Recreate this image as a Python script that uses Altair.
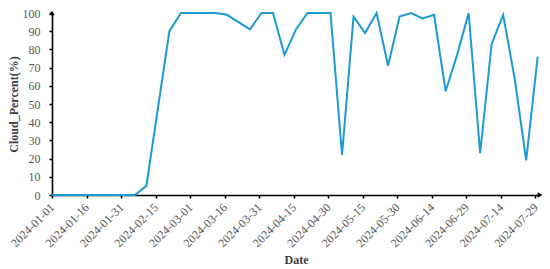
import altair as alt
import pandas as pd

dates = ["2024-01-01", "2024-01-06", "2024-01-11", "2024-01-16", "2024-01-21", "2024-01-26",
         "2024-01-31", "2024-02-06", "2024-02-11", "2024-02-21", "2024-02-26", "2024-03-02",
         "2024-03-07", "2024-03-12", "2024-03-17", "2024-03-27", "2024-04-01", "2024-04-06",
         "2024-04-11", "2024-04-16", "2024-04-21", "2024-04-26", "2024-05-01", "2024-05-06",
         "2024-05-11", "2024-05-16", "2024-05-21", "2024-05-26", "2024-05-31", "2024-06-05",
         "2024-06-10", "2024-06-15", "2024-06-20", "2024-06-25", "2024-06-30", "2024-07-05",
         "2024-07-10", "2024-07-15", "2024-07-20", "2024-07-25", "2024-07-30"]
cloud = [0, 0, 0, 0, 0, 0,
         0, 0, 5, 90, 100, 100,
         100, 100, 99, 91, 100, 100,
         77, 91, 100, 100, 100, 22,
         98, 89, 100, 71, 98, 100,
         97, 99, 57, 77, 100, 23,
         83, 99, 64, 19, 76]

tick_dates = ["2024-01-01", "2024-01-16", "2024-01-31", "2024-02-15", "2024-03-01",
              "2024-03-16", "2024-03-31", "2024-04-15", "2024-04-30", "2024-05-15",
              "2024-05-30", "2024-06-14", "2024-06-29", "2024-07-14", "2024-07-29"]
x_domain = ["2024-01-01", "2024-07-31"]
y_ticks = [0, 10, 20, 30, 40, 50, 60, 70, 80, 90, 100]
y_domain = [0, 100]


def ms(s):
    return int(pd.Timestamp(s, tz="UTC").value // 10**6)


df = pd.DataFrame({"t": [ms(d) for d in dates], "Cloud_Percent": cloud})
tick_ms = [ms(d) for d in tick_dates]
dom_ms = [ms(d) for d in x_domain]

FONT = "Liberation Serif"

xscale = alt.Scale(type="utc", domain=dom_ms, nice=False)
yscale = alt.Scale(domain=y_domain, nice=False)

x_axis = alt.Axis(values=tick_ms, labelExpr="utcFormat(datum.value, '%Y-%m-%d')",
                  labelAngle=-45, labelAlign="right", labelBaseline="middle",
                  labelPadding=7, labelOverlap=False, labelFlush=False,
                  labelFont=FONT, titleFont=FONT,
                  titleY=64, titleBaseline="middle")
y_axis = alt.Axis(values=y_ticks, labelPadding=9, labelOverlap=False,
                  labelFlush=False, labelFont=FONT, titleFont=FONT,
                  titleX=-39, titleY=91,
                  titleBaseline="middle", titleAlign="center", titleAngle=-90)

line = alt.Chart(df).mark_line(color="#1b9ad6", strokeWidth=2).encode(
    x=alt.X("t:T", scale=xscale, title="Date", axis=x_axis),
    y=alt.Y("Cloud_Percent:Q", scale=yscale, title="Cloud_Percent(%)", axis=y_axis),
)

arrows_df = pd.DataFrame({
    "t": [dom_ms[0], dom_ms[1]],
    "Cloud_Percent": [y_domain[1], y_domain[0]],
    "shape": ["triangle-up", "triangle-right"],
})
arrows = alt.Chart(arrows_df).mark_point(filled=True, color="black", size=30, opacity=1).encode(
    x=alt.X("t:T", scale=xscale, title="Date", axis=x_axis),
    y=alt.Y("Cloud_Percent:Q", scale=yscale, title="Cloud_Percent(%)", axis=y_axis),
    shape=alt.Shape("shape:N", scale=None, legend=None),
)

chart = alt.layer(line, arrows).properties(
    width=488, height=182,
    autosize=alt.AutoSizeParams(type="none"),
    padding={"left": 44, "top": 5, "right": 2, "bottom": 71},
).configure_view(stroke=None).configure_axis(
    grid=False, labelOverlap=False,
    domainColor="black", domainWidth=1.6,
    tickColor="black", tickWidth=1.6, tickSize=3,
    labelFont=FONT, labelFontSize=12, labelColor="#595959",
    titleFont=FONT, titleFontSize=12, titleFontWeight="bold", titleColor="#404040",
)

chart.save("out.html", embed_options={"renderer": "svg", "actions": False})
